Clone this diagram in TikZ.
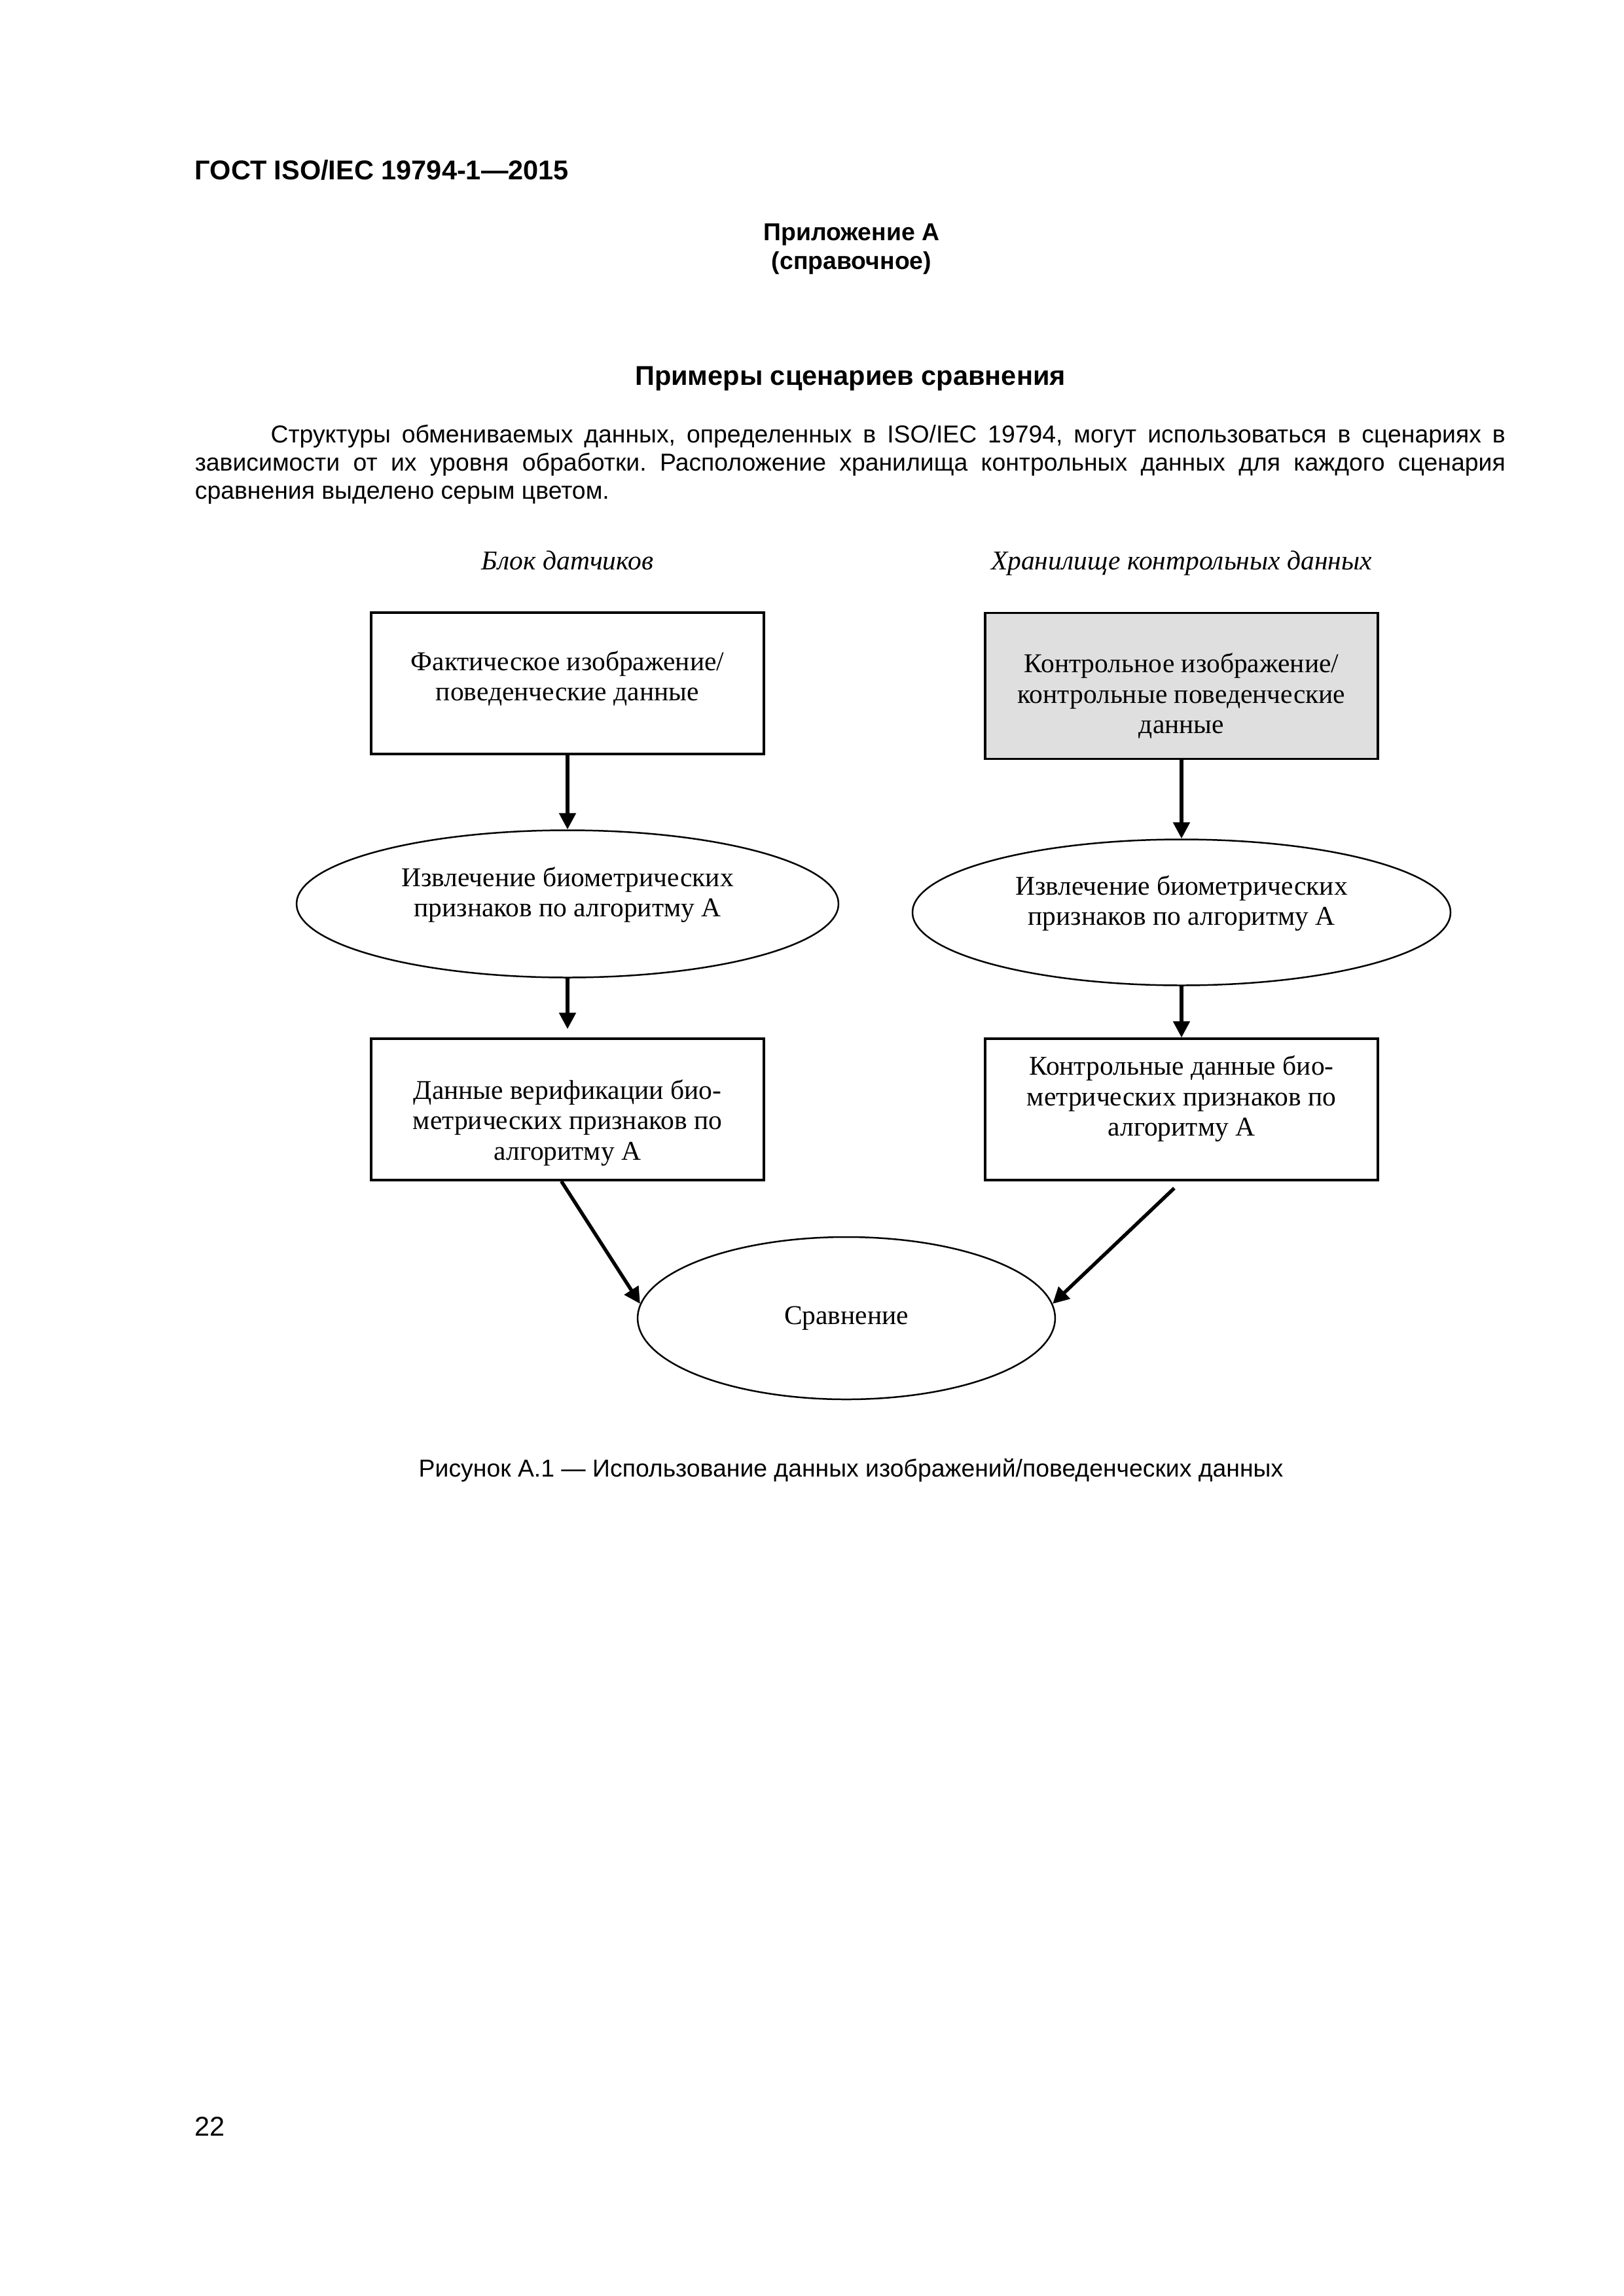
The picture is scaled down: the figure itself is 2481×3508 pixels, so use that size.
\documentclass[tikz,border=0pt]{standalone}
\usepackage{fontspec}
\setmainfont{Liberation Serif}
\setsansfont{Liberation Sans}
\usetikzlibrary{shapes.geometric,arrows.meta,positioning}
\newcommand{\padtop}[1]{\rule{0pt}{#1}}
\newcommand{\padbottom}[1]{\rule[-#1]{0pt}{0pt}}
\tikzstyle{block}=[draw,line width=.85pt,minimum width=50.8mm,align=center,inner sep=2pt,font=\fontsize{10}{11.2}\selectfont]
\tikzstyle{stored}=[block,fill=gray!25]
\tikzstyle{oval}=[ellipse,draw,line width=.6pt,align=center,inner sep=1pt,font=\fontsize{10}{11.2}\selectfont]
\tikzstyle{flow}=[-{Triangle[length=2.1mm,width=2.1mm]},line width=1.3pt]
\tikzstyle{pagetext}=[inner sep=0pt,font=\sffamily\fontsize{10}{12}\selectfont]
\tikzstyle{bodytext}=[inner sep=0pt,font=\sffamily\fontsize{9}{10.4}\selectfont]
\tikzstyle{side}=[inner sep=0pt,font=\itshape\fontsize{10}{12}\selectfont]

\begin{document}
\begin{tikzpicture}[x=0.084667mm,y=-0.084667mm]
    \useasboundingbox (0,0) rectangle (2481,3508);

    % page head
    \node[pagetext,anchor=base west] (header) at (297,274) {\bfseries ГОСТ ISO/IEC 19794-1—2015};
    \node[pagetext,align=center,font=\sffamily\bfseries\fontsize{9}{10.6}\selectfont] (appendix) at (1301,381) {Приложение А\\ (справочное)};
    \node[pagetext,anchor=base] (title) at (1299,588) {\bfseries Примеры сценариев сравнения};
    \node[bodytext,anchor=north west,text width=169.5mm,align=justify] (intro) at (297,648) {\frenchspacing\hspace*{9.8mm}Структуры обмениваемых данных, определенных в ISO/IEC 19794, могут использоваться в сценариях в\linebreak зависимости от их уровня обработки. Расположение хранилища контрольных данных для каждого сценария\linebreak сравнения выделено серым цветом.};

    % the two columns
    \node[side,anchor=base] (sensorlabel) at (867,870) {Блок датчиков};
    \node[side,anchor=base] (storelabel) at (1805,870) {Хранилище контрольных данных};

    \node[block,minimum height=18.29mm] (actual) at (867,1044) {Фактическое изображение/\\ поведенческие данные\padbottom{5.6pt}};
    \node[stored,minimum height=18.88mm] (reference) at (1805,1048) {\padtop{14.6pt}Контрольное изображение/\\ контрольные поведенческие\\ данные};
    \node[oval,minimum width=70.1mm,minimum height=19.05mm] (extract1) at (867,1381) {Извлечение биометрических\\ признаков по алгоритму А\padbottom{8.9pt}};
    \node[oval,minimum width=69.6mm,minimum height=18.88mm] (extract2) at (1805,1394) {Извлечение биометрических\\ признаков по алгоритму А\padbottom{8.9pt}};
    \node[block,minimum height=18.29mm] (verifydata) at (867,1695) {\padtop{17pt}Данные верификации био-\\ метрических признаков по\\ алгоритму А};
    \node[block,minimum height=18.29mm] (refdata) at (1805,1695) {Контрольные данные био-\\ метрических признаков по\\ алгоритму А\padbottom{9.9pt}};
    \node[oval,minimum width=54mm,minimum height=21mm] (compare) at (1293,2014) {Сравнение};

    \draw[flow] (actual) -- (extract1);
    \draw[flow] (reference) -- (extract2);
    \draw[flow,shorten >=1.1mm] (extract1) -- (verifydata);
    \draw[flow] (extract2) -- (refdata);
    \draw[flow] ([xshift=-0.8mm]verifydata.south) -- (compare.176);
    \draw[flow,shorten <=1.3mm] (refdata.south) -- (compare.4);

    % page foot
    \node[bodytext,anchor=base] (caption) at (1300,2256) {Рисунок А.1 — Использование данных изображений/поведенческих данных};
    \node[pagetext,anchor=base west] (pagenum) at (297,3263) {22};
\end{tikzpicture}
\end{document}
